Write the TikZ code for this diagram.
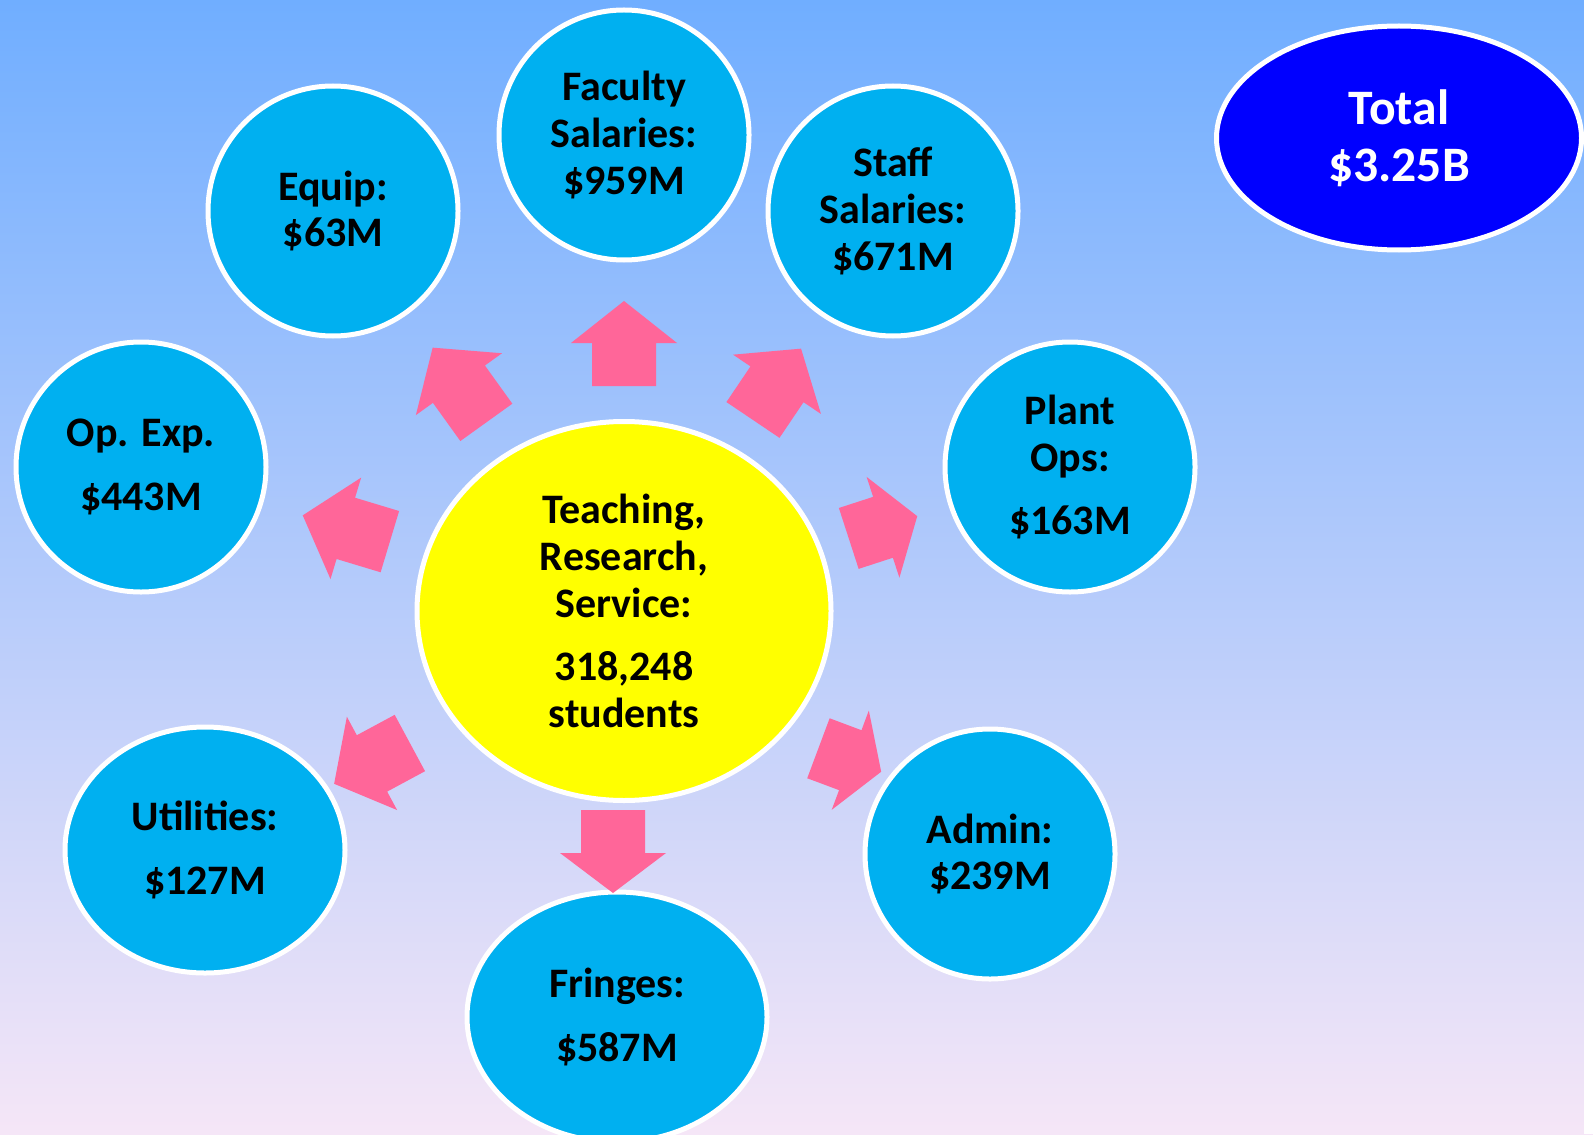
\documentclass[tikz,border=0pt]{standalone}
\usepackage{fontspec}
\setmainfont{Carlito}
\usetikzlibrary{shapes.geometric}

\definecolor{skytop}{RGB}{112,174,255}
\definecolor{skymid}{RGB}{168,202,243}
\definecolor{skybot}{RGB}{245,230,247}
\definecolor{costblue}{RGB}{0,176,240}
\definecolor{hubyellow}{RGB}{255,255,0}
\definecolor{totalblue}{RGB}{0,0,255}
\definecolor{arrowpink}{RGB}{255,102,153}

\newcommand{\costfont}{\fontsize{21}{23.4}\selectfont\bfseries}
\newcommand{\totalfont}{\fontsize{24.8}{28.5}\selectfont\bfseries}
% block arrow: centre, angle, length, head length
\newcommand{\blockarrow}[4]{%
	\fill[arrowpink, shift={#1}, rotate=#2]
		(-#3/2,-32) -- (#3/2-#4,-32) -- (#3/2-#4,-53) -- (#3/2,0)
		-- (#3/2-#4,53) -- (#3/2-#4,32) -- (-#3/2,32) -- cycle;}

\begin{document}
\begin{tikzpicture}[x=0.5pt, y=-0.5pt,
		cost/.style={ellipse, draw=white, line width=2.5pt, fill=costblue,
			minimum width=125pt, minimum height=125pt, inner sep=0pt,
			align=center, font=\costfont}]
		\clip (0,0) rectangle (1593,1134);
		\shade[top color=skytop, middle color=skymid, bottom color=skybot]
			(0,0) rectangle (1593,1134);
		\fill[white] (1584,0) rectangle (1593,1134);

		% centre
		\node[cost, fill=hubyellow, minimum width=207pt, minimum height=189.5pt]
			(hub) at (624,611) {Teaching,\\Research,\\Service:\\[8.5pt]318,248\\students};

		% costs
		\node[cost] (faculty) at (624,135) {Faculty\\Salaries:\\\$959M};
		\node[cost] (equip) at (333,211) {Equip:\\\$63M};
		\node[cost] (staff) at (893,211) {Staff\\Salaries:\\\$671M};
		\node[cost] (opexp) at (141,467) {Op. Exp.\\[8.5pt]\$443M};
		\node[cost] (plant) at (1070,467) {Plant\\Ops:\\[8.5pt]\$163M};
		\node[cost] (admin) at (990,854) {Admin:\\\$239M};
		\node[cost, minimum width=140pt, minimum height=123pt]
			(util) at (205,850) {Utilities:\\[8.5pt]\$127M};
		\node[cost, minimum width=150pt]
			(fringe) at (617,1017) {Fringes:\\[8.5pt]\$587M};

		% total
		\node[cost, fill=totalblue, text=white, font=\totalfont,
			minimum width=182.5pt, minimum height=112pt]
			(total) at (1399,138) {Total\\\$3.25B};

		% arrows
		\blockarrow{(624,343.5)}{90}{85}{42}
		\blockarrow{(777,384.3)}{56}{86}{43}
		\blockarrow{(883,527.3)}{18}{72}{36}
		\blockarrow{(849.8,760)}{-20.5}{67}{33}
		\blockarrow{(613,851.5)}{-90}{83}{40}
		\blockarrow{(372,763.4)}{208.3}{86}{43}
		\blockarrow{(346.3,528.5)}{163.2}{91}{45}
		\blockarrow{(459.5,385)}{125.7}{92}{45}
	\end{tikzpicture}
\end{document}
